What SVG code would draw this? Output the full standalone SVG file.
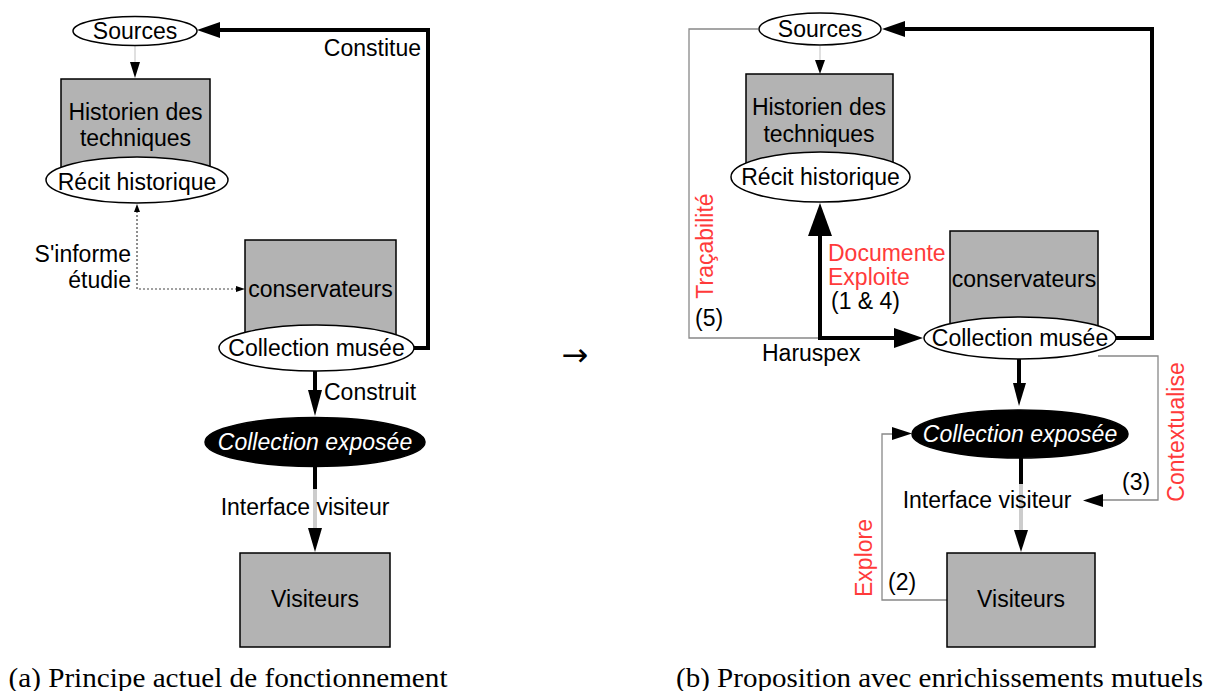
<svg xmlns="http://www.w3.org/2000/svg" width="1206" height="691" viewBox="0 0 1206 691">
<style>
text{font-family:"Liberation Sans",Arial,sans-serif;font-size:23px;fill:#000}
.c{text-anchor:middle}
.e{text-anchor:end}
.red{fill:#ff3a3a}
.wit{fill:#fff;font-style:italic}
.cap{font-family:"Liberation Serif","Times New Roman",serif;font-size:28px}
.arr{font-family:"DejaVu Sans",sans-serif;font-size:32px}
.box{fill:#b3b3b3;stroke:#000;stroke-width:1.5}
.ell{fill:#fff;stroke:#000;stroke-width:1.5}
.blk{fill:#000;stroke:#000;stroke-width:1.5}
.thick{fill:none;stroke:#000;stroke-width:4}
.thin{fill:none;stroke:#888;stroke-width:1.3}
.faint{fill:none;stroke:#d0d0d0;stroke-width:1.3}
.dot{fill:none;stroke:#444;stroke-width:1.2;stroke-dasharray:2 2}
.gry{fill:none;stroke:#ccc;stroke-width:4}
.head{fill:#000;stroke:none}
</style>
<rect width="1206" height="691" fill="#fff"/>

<!-- connectors (a) -->
<g id="connectors-a">
  <line class="faint" x1="135" y1="46" x2="135" y2="62"/>
  <polygon class="head" points="130,62 140,62 135,78"/>
  <path class="dot" d="M137,211 V289 H237"/>
  <polygon class="head" points="134,212 140,212 137,204"/>
  <polygon class="head" points="236,286 236,292 245,289"/>
  <path class="thick" d="M414,348 H428 V30 H218"/>
  <polygon class="head" points="220,22 220,38 197,30"/>
  <text class="e" x="421" y="56">Constitue</text>
  <line class="thick" x1="315" y1="371" x2="315" y2="392"/>
  <polygon class="head" points="308,390 322,390 315,416"/>
  <text x="324" y="400">Construit</text>
  <line class="thick" x1="315" y1="466" x2="315" y2="489"/>
  <line class="gry" x1="315" y1="489" x2="315" y2="528"/>
  <polygon class="head" points="308,528 322,528 315,552"/>
  <text class="c" x="305" y="515">Interface visiteur</text>
  <text class="e" x="131" y="262">S'informe</text>
  <text class="e" x="131" y="288">étudie</text>
</g>

<!-- nodes (a) -->
<g id="a-sources"><ellipse class="ell" cx="135" cy="31" rx="62" ry="14.5"/><text class="c" x="135" y="39">Sources</text></g>
<g id="a-historien"><rect class="box" x="61" y="79" width="149" height="95"/><text class="c" x="135.5" y="120">Historien des</text><text class="c" x="135.5" y="146">techniques</text></g>
<g id="a-recit"><ellipse class="ell" cx="137" cy="180" rx="91" ry="23"/><text class="c" x="137" y="190">Récit historique</text></g>
<g id="a-conservateurs"><rect class="box" x="245" y="240" width="151" height="95"/><text class="c" x="320.5" y="297">conservateurs</text></g>
<g id="a-collection"><ellipse class="ell" cx="316.5" cy="348" rx="97.5" ry="23"/><text class="c" x="316.5" y="356">Collection musée</text></g>
<g id="a-exposee"><ellipse class="blk" cx="315" cy="442" rx="110" ry="24.5"/><text class="c wit" x="315" y="450">Collection exposée</text></g>
<g id="a-visiteurs"><rect class="box" x="240" y="553" width="150" height="94"/><text class="c" x="315" y="607">Visiteurs</text></g>

<text class="cap c" x="228" y="687" textLength="439" lengthAdjust="spacingAndGlyphs">(a) Principe actuel de fonctionnement</text>
<text class="arr c" x="575" y="366">→</text>

<!-- connectors (b) -->
<g id="connectors-b">
  <line class="faint" x1="820" y1="46" x2="820" y2="60"/>
  <polygon class="head" points="815,60 825,60 820,74"/>
  <path class="thin" d="M758,29 H689 V338 H820" stroke="#777"/>
  <path class="thick" d="M820,234 V338 H895"/>
  <polygon class="head" points="808,236 832,236 820,203"/>
  <polygon class="head" points="894,328 894,348 923,338"/>
  <path class="thick" d="M1116,338 H1152 V29 H903"/>
  <polygon class="head" points="905,21 905,37 882,29"/>
  <line class="thick" x1="1019" y1="358" x2="1019" y2="385"/>
  <polygon class="head" points="1013,383 1026,383 1019,406"/>
  <path class="thin" d="M1098,356 H1158 V500 H1102" stroke="#999"/>
  <polygon class="head" points="1103,494 1103,507 1083,500.5"/>
  <line class="thick" x1="1021" y1="458" x2="1021" y2="484"/>
  <line class="gry" x1="1021" y1="484" x2="1021" y2="530"/>
  <polygon class="head" points="1014,530 1028,530 1021,552"/>
  <path class="thin" d="M947,600 H882 V434 H893" stroke="#555"/>
  <polygon class="head" points="892,427 892,440 912,433.5"/>
  <text class="red" x="828" y="261">Documente</text>
  <text class="red" x="828" y="285">Exploite</text>
  <text x="831" y="309">(1 &amp; 4)</text>
  <text x="762" y="361">Haruspex</text>
  <text x="695" y="326">(5)</text>
  <text class="red c" transform="translate(713,246) rotate(-90)">Traçabilité</text>
  <text x="1122" y="490">(3)</text>
  <text class="red c" transform="translate(1184,432) rotate(-90)">Contextualise</text>
  <text class="c" x="987" y="508">Interface visiteur</text>
  <text x="888" y="590">(2)</text>
  <text class="red c" transform="translate(872,558) rotate(-90)">Explore</text>
</g>

<!-- nodes (b) -->
<g id="b-sources"><ellipse class="ell" cx="820" cy="29" rx="61" ry="16"/><text class="c" x="820" y="37">Sources</text></g>
<g id="b-historien"><rect class="box" x="746" y="74" width="147" height="92"/><text class="c" x="819" y="115">Historien des</text><text class="c" x="819" y="142">techniques</text></g>
<g id="b-recit"><ellipse class="ell" cx="820.5" cy="177" rx="89.5" ry="25"/><text class="c" x="820.5" y="185">Récit historique</text></g>
<g id="b-conservateurs"><rect class="box" x="950" y="231" width="148" height="95"/><text class="c" x="1024" y="287">conservateurs</text></g>
<g id="b-collection"><ellipse class="ell" cx="1020" cy="338" rx="96" ry="21"/><text class="c" x="1020" y="346">Collection musée</text></g>
<g id="b-exposee"><ellipse class="blk" cx="1020" cy="434" rx="108" ry="24"/><text class="c wit" x="1020" y="442">Collection exposée</text></g>
<g id="b-visiteurs"><rect class="box" x="947" y="553" width="148" height="94"/><text class="c" x="1021" y="607">Visiteurs</text></g>

<text class="cap c" x="939.5" y="687" textLength="527" lengthAdjust="spacingAndGlyphs">(b) Proposition avec enrichissements mutuels</text>
</svg>
